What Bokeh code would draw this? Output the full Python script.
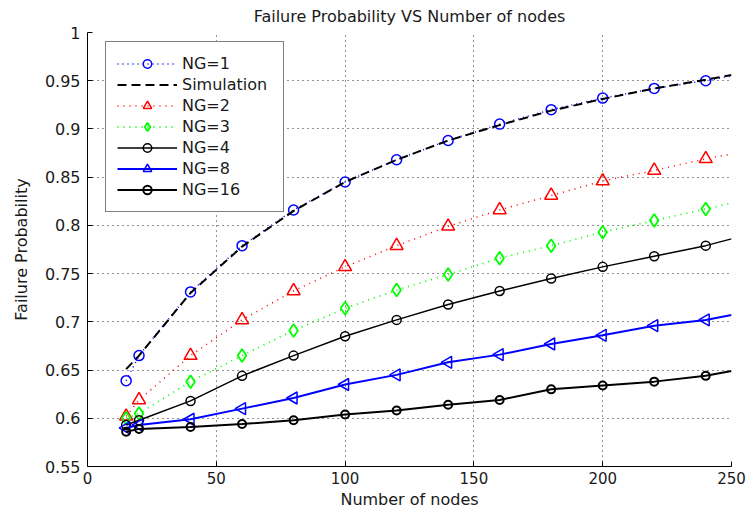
from bokeh.plotting import figure
from bokeh.models import Legend, LegendItem, CustomJSTickFormatter, FixedTicker, Range1d
from bokeh.embed import file_html
from bokeh.resources import INLINE

title_text = "Failure Probability VS Number of nodes"
x_label = "Number of nodes"
y_label = "Failure Probability"

nodes = [15, 20, 40, 60, 80, 100, 120, 140, 160, 180, 200, 220, 240, 250]
ng1 = [0.639, 0.665, 0.731, 0.779, 0.816, 0.845, 0.868, 0.888, 0.905, 0.920, 0.932, 0.942, 0.950, 0.955]
sim = [0.651, 0.665, 0.730, 0.778, 0.815, 0.845, 0.868, 0.888, 0.904, 0.919, 0.931, 0.942, 0.951, 0.956]
ng2 = [0.602, 0.619, 0.665, 0.702, 0.732, 0.757, 0.779, 0.799, 0.816, 0.831, 0.846, 0.857, 0.869, 0.874]
ng3 = [0.600, 0.605, 0.638, 0.665, 0.691, 0.714, 0.733, 0.749, 0.766, 0.779, 0.793, 0.805, 0.817, 0.823]
ng4 = [0.593, 0.598, 0.618, 0.644, 0.665, 0.685, 0.702, 0.718, 0.732, 0.745, 0.757, 0.768, 0.779, 0.786]
ng8 = [0.590, 0.593, 0.599, 0.610, 0.621, 0.635, 0.645, 0.658, 0.666, 0.677, 0.686, 0.696, 0.702, 0.707]
ng16 = [0.586, 0.589, 0.591, 0.594, 0.598, 0.604, 0.608, 0.614, 0.619, 0.630, 0.634, 0.638, 0.644, 0.649]

x_ticks = [0, 50, 100, 150, 200, 250]
y_ticks = [0.55, 0.6, 0.65, 0.7, 0.75, 0.8, 0.85, 0.9, 0.95, 1.0]

FONT = "DejaVu Sans"
TXT = "#1a1a1a"

p = figure(width=746, height=512, output_backend="svg", toolbar_location=None,
           x_range=Range1d(0, 250), y_range=Range1d(0.55, 1.0),
           min_border_left=87, min_border_right=15, min_border_top=32, min_border_bottom=46,
           title=title_text)
p.background_fill_color = "white"
p.border_fill_color = "white"
p.outline_line_color = None

p.title.align = "center"
p.title.text_font = FONT
p.title.text_font_size = "16px"
p.title.text_font_style = "normal"
p.title.text_color = TXT
p.title.standoff = 9
p.title.vertical_align = "top"

p.xaxis.ticker = FixedTicker(ticks=x_ticks)
p.yaxis.ticker = FixedTicker(ticks=y_ticks)
p.yaxis.formatter = CustomJSTickFormatter(code="return parseFloat(tick.toFixed(2)).toString();")
for ax in (p.xaxis, p.yaxis):
    ax.axis_line_color = "black"
    ax.axis_line_width = 1
    ax.major_tick_in = 5
    ax.major_tick_out = 0
    ax.minor_tick_line_color = None
    ax.major_tick_line_color = "black"
    ax.major_label_text_font = FONT
    ax.major_label_text_color = TXT
    ax.axis_label_text_font = FONT
    ax.axis_label_text_font_size = "16px"
    ax.axis_label_text_font_style = "normal"
    ax.axis_label_text_color = TXT
p.xaxis.major_label_text_font_size = "15px"
p.yaxis.major_label_text_font_size = "16px"
p.xaxis.axis_label = x_label
p.yaxis.axis_label = y_label
p.xaxis.major_label_standoff = 5
p.yaxis.major_label_standoff = 7
p.xaxis.axis_label_standoff = 3
p.yaxis.axis_label_standoff = 11

for g in (p.xgrid, p.ygrid):
    g.grid_line_color = "black"
    g.grid_line_dash = "1 4"
    g.grid_line_width = 1
    g.grid_line_alpha = 0.85

mx = nodes[:-1]

# NG=1
l1 = p.line(nodes, ng1, line_color="#0000ff", line_width=1.5, line_dash="1 4")
m1 = p.scatter(mx, ng1[:-1], marker="circle", size=10, fill_color=None, line_color="#0000ff", line_width=1.5)
# Simulation
ls = p.line(nodes, sim, line_color="black", line_width=2, line_dash="9 5")
# NG=2
l2 = p.line(nodes, ng2, line_color="#ff0000", line_width=1.5, line_dash="1 5")
m2 = p.scatter(mx, ng2[:-1], marker="triangle", size=13, fill_color=None, line_color="#ff0000", line_width=1.5)
# NG=3
l3 = p.line(nodes, ng3, line_color="#00ff00", line_width=1.8, line_dash="1 5")
m3 = p.scatter(mx, ng3[:-1], marker="diamond", size=13, fill_color=None, line_color="#00ff00", line_width=1.8)
# NG=4
l4 = p.line(nodes, ng4, line_color="black", line_width=1.5)
m4 = p.scatter(mx, ng4[:-1], marker="circle", size=9, fill_color=None, line_color="black", line_width=1.5)
# NG=8
l8 = p.line(nodes, ng8, line_color="#0000ff", line_width=2)
m8 = p.scatter(mx, ng8[:-1], marker="triangle", angle=1.5708, size=12, fill_color=None, line_color="#0000ff", line_width=1.5)
# NG=16
l16 = p.line(nodes, ng16, line_color="black", line_width=2)
m16 = p.scatter(mx, ng16[:-1], marker="circle", size=8, fill_color=None, line_color="black", line_width=2)

legend = Legend(items=[
    LegendItem(label="NG=1", renderers=[l1, m1]),
    LegendItem(label="Simulation", renderers=[ls]),
    LegendItem(label="NG=2", renderers=[l2, m2]),
    LegendItem(label="NG=3", renderers=[l3, m3]),
    LegendItem(label="NG=4", renderers=[l4, m4]),
    LegendItem(label="NG=8", renderers=[l8, m8]),
    LegendItem(label="NG=16", renderers=[l16, m16]),
], location=(18, 254))
legend.margin = 0
legend.padding = 11
legend.spacing = 0
legend.glyph_width = 60
legend.glyph_height = 21
legend.label_height = 21
legend.label_width = 90
legend.label_standoff = 5
legend.label_text_font = FONT
legend.label_text_font_size = "16px"
legend.label_text_color = TXT
legend.border_line_color = "black"
legend.border_line_width = 1
legend.background_fill_color = "white"
legend.background_fill_alpha = 1
p.add_layout(legend, "center")

open("out.html", "w").write(file_html(p, INLINE))
